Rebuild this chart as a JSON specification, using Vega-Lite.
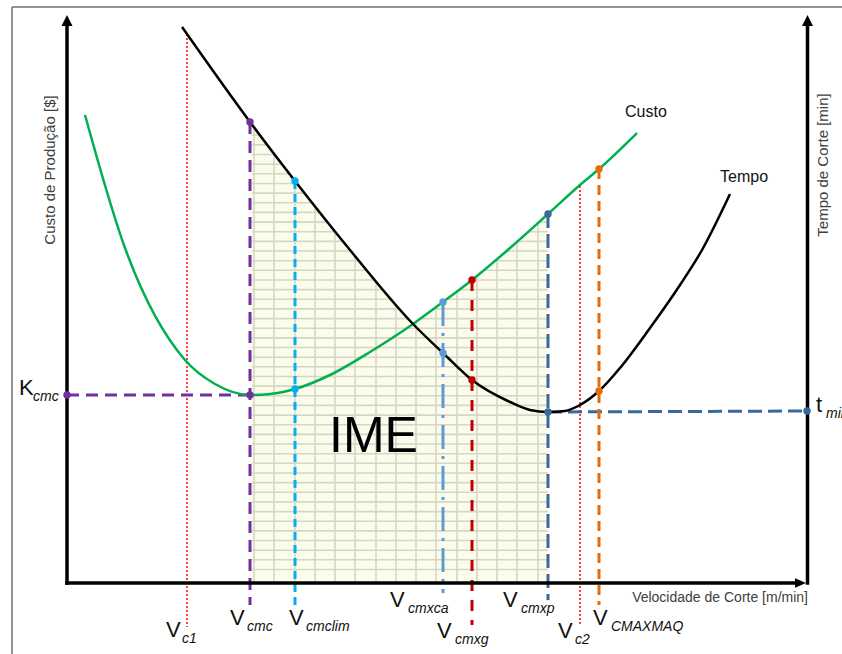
{
  "$schema": "https://vega.github.io/schema/vega-lite/v6.json",
  "width": 842,
  "height": 654,
  "autosize": {"type": "fit", "contains": "padding"},
  "padding": 0,
  "background": "white",
  "config": {"view": {"stroke": null}, "font": "Liberation Sans"},
  "datasets": {
    "frame": [
      {"x": -55, "y": 576, "x2": 775, "y2": 576},
      {"x": -55, "y": -71, "x2": -55, "y2": 576}
    ],
    "boundary": [
      {"x": 183, "y": 461, "base": 0, "top": 476}, {"x": 228, "y": 402, "base": 0, "top": 476},
      {"x": 283, "y": 333, "base": 0, "top": 476}, {"x": 346, "y": 259, "base": 0, "top": 476},
      {"x": 376, "y": 281, "base": 0, "top": 476}, {"x": 405, "y": 303, "base": 0, "top": 476},
      {"x": 443, "y": 335, "base": 0, "top": 476}, {"x": 481, "y": 369, "base": 0, "top": 476}
    ],
    "hgrid": [
      {"y": 13.5, "x": 185, "x2": 481}, {"y": 23.2, "x": 185, "x2": 481}, {"y": 32.8, "x": 185, "x2": 481},
      {"y": 42.5, "x": 185, "x2": 481}, {"y": 52.1, "x": 185, "x2": 481}, {"y": 61.8, "x": 185, "x2": 481},
      {"y": 71.4, "x": 185, "x2": 481}, {"y": 81.1, "x": 185, "x2": 481}, {"y": 90.7, "x": 185, "x2": 481},
      {"y": 100.4, "x": 185, "x2": 481}, {"y": 110.0, "x": 185, "x2": 481}, {"y": 119.7, "x": 185, "x2": 481},
      {"y": 129.3, "x": 185, "x2": 481}, {"y": 139.0, "x": 185, "x2": 481}, {"y": 148.6, "x": 185, "x2": 481},
      {"y": 158.3, "x": 185, "x2": 481}, {"y": 167.9, "x": 185, "x2": 481}, {"y": 177.6, "x": 185, "x2": 481},
      {"y": 187.2, "x": 185, "x2": 481}, {"y": 196.9, "x": 185, "x2": 481}, {"y": 206.5, "x": 185, "x2": 481},
      {"y": 216.2, "x": 185, "x2": 481}, {"y": 225.8, "x": 185, "x2": 481}, {"y": 235.5, "x": 185, "x2": 481},
      {"y": 245.1, "x": 185, "x2": 481}, {"y": 254.8, "x": 185, "x2": 481}, {"y": 264.4, "x": 185, "x2": 481},
      {"y": 274.1, "x": 185, "x2": 481}, {"y": 283.7, "x": 185, "x2": 481}, {"y": 293.4, "x": 185, "x2": 481},
      {"y": 303.0, "x": 185, "x2": 481}, {"y": 312.7, "x": 185, "x2": 481}, {"y": 322.3, "x": 185, "x2": 481},
      {"y": 332.0, "x": 185, "x2": 481}, {"y": 341.6, "x": 185, "x2": 481}, {"y": 351.3, "x": 185, "x2": 481},
      {"y": 360.9, "x": 185, "x2": 481}, {"y": 370.6, "x": 185, "x2": 481}, {"y": 380.2, "x": 185, "x2": 481},
      {"y": 389.9, "x": 185, "x2": 481}, {"y": 399.5, "x": 185, "x2": 481}, {"y": 409.2, "x": 185, "x2": 481},
      {"y": 418.8, "x": 185, "x2": 481}, {"y": 428.5, "x": 185, "x2": 481}, {"y": 438.1, "x": 185, "x2": 481},
      {"y": 447.8, "x": 185, "x2": 481}, {"y": 457.4, "x": 185, "x2": 481}
    ],
    "vgrid": [
      {"x": 187, "y": 0, "y2": 470}, {"x": 207, "y": 0, "y2": 470}, {"x": 228, "y": 0, "y2": 470},
      {"x": 248, "y": 0, "y2": 470}, {"x": 268, "y": 0, "y2": 470}, {"x": 288, "y": 0, "y2": 470},
      {"x": 309, "y": 0, "y2": 470}, {"x": 329, "y": 0, "y2": 470}, {"x": 349, "y": 0, "y2": 470},
      {"x": 369, "y": 0, "y2": 470}, {"x": 390, "y": 0, "y2": 470}, {"x": 410, "y": 0, "y2": 470},
      {"x": 430, "y": 0, "y2": 470}, {"x": 450, "y": 0, "y2": 470}, {"x": 471, "y": 0, "y2": 470}
    ],
    "axes": [
      {"x": 0, "y": -2, "x2": 0, "y2": 558},
      {"x": 740.5, "y": -1.7, "x2": 740.5, "y2": 558},
      {"x": -1.7, "y": 0, "x2": 729, "y2": 0}
    ],
    "arrowsUp": [{"x": 0, "y": 568}, {"x": 740.5, "y": 568}],
    "arrowRight": [{"x": 739, "y": 0}],
    "dotted": [
      {"name": "c1", "x": 120, "y": 549, "x2": 120, "y2": -44},
      {"name": "c2", "x": 513, "y": 397, "x2": 513, "y2": -42}
    ],
    "dashed": [
      {"name": "cmc", "x": 183, "y": 461, "x2": 183, "y2": -22},
      {"name": "cmc", "x": 0, "y": 188, "x2": 183, "y2": 188},
      {"name": "cmclim", "x": 228, "y": 402, "x2": 228, "y2": -24},
      {"name": "cmxca", "x": 376, "y": 281, "x2": 376, "y2": -10},
      {"name": "cmxg", "x": 405, "y": 303, "x2": 405, "y2": -42},
      {"name": "cmxp", "x": 481, "y": 369, "x2": 481, "y2": -17},
      {"name": "cmxp", "x": 481, "y": 171, "x2": 740, "y2": 172},
      {"name": "cmaxmaq", "x": 532, "y": 414, "x2": 532, "y2": -22}
    ],
    "custo": [
      {"x": 18, "y": 468}, {"x": 58, "y": 335}, {"x": 118, "y": 223}, {"x": 148, "y": 199}, {"x": 183, "y": 188},
      {"x": 203, "y": 189}, {"x": 228, "y": 194}, {"x": 263, "y": 208}, {"x": 303, "y": 231}, {"x": 346, "y": 259},
      {"x": 376, "y": 281}, {"x": 405, "y": 303}, {"x": 443, "y": 335}, {"x": 481, "y": 369}, {"x": 513, "y": 398},
      {"x": 532, "y": 414}, {"x": 570, "y": 450}
    ],
    "tempo": [
      {"x": 115, "y": 556}, {"x": 183, "y": 461}, {"x": 228, "y": 402}, {"x": 283, "y": 333}, {"x": 346, "y": 259},
      {"x": 376, "y": 230}, {"x": 405, "y": 203}, {"x": 443, "y": 181}, {"x": 463, "y": 173}, {"x": 481, "y": 171},
      {"x": 498, "y": 172}, {"x": 513, "y": 178}, {"x": 532, "y": 192}, {"x": 553, "y": 215}, {"x": 583, "y": 255},
      {"x": 613, "y": 298}, {"x": 635, "y": 333}, {"x": 663, "y": 389}
    ],
    "dots": [
      {"name": "cmc", "x": 0, "y": 188}, {"name": "cmc", "x": 183, "y": 188}, {"name": "cmc", "x": 183, "y": 461},
      {"name": "cmclim", "x": 228, "y": 402}, {"name": "cmclim", "x": 228, "y": 194},
      {"name": "cmxca", "x": 376, "y": 281}, {"name": "cmxca", "x": 376, "y": 230},
      {"name": "cmxg", "x": 405, "y": 303}, {"name": "cmxg", "x": 405, "y": 203},
      {"name": "cmxp", "x": 481, "y": 369}, {"name": "cmxp", "x": 481, "y": 171}, {"name": "cmxp", "x": 740, "y": 172},
      {"name": "cmaxmaq", "x": 532, "y": 414}, {"name": "cmaxmaq", "x": 532, "y": 192}
    ],
    "big": [
      {"t": "K", "x": -48, "y": 188}, {"t": "V", "x": 99, "y": -54}, {"t": "V", "x": 163, "y": -42},
      {"t": "V", "x": 222, "y": -42}, {"t": "V", "x": 323, "y": -24}, {"t": "V", "x": 370, "y": -55},
      {"t": "V", "x": 436, "y": -24}, {"t": "V", "x": 491, "y": -55}, {"t": "V", "x": 526, "y": -42},
      {"t": "t", "x": 749, "y": 171}
    ],
    "sub": [
      {"t": "cmc", "x": -34, "y": 182}, {"t": "c1", "x": 115, "y": -60}, {"t": "cmc", "x": 180, "y": -48},
      {"t": "cmclim", "x": 239, "y": -48}, {"t": "cmxca", "x": 341, "y": -30}, {"t": "cmxg", "x": 388, "y": -61},
      {"t": "cmxp", "x": 454, "y": -30}, {"t": "c2", "x": 508, "y": -61}, {"t": "CMAXMAQ", "x": 544, "y": -48},
      {"t": "min", "x": 759, "y": 165}
    ],
    "curveLabels": [{"t": "Custo", "x": 558, "y": 466}, {"t": "Tempo", "x": 653, "y": 401}],
    "ime": [{"t": "IME", "x": 262, "y": 131}],
    "ytitles": [
      {"t": "Custo de Produção [$]", "x": -17, "y": 413},
      {"t": "Tempo de Corte [min]", "x": 756, "y": 418}
    ],
    "xtitle": [{"t": "Velocidade de Corte [m/min]", "x": 741, "y": -19}]
  },
  "encoding": {
    "x": {"field": "x", "type": "quantitative", "scale": {"domain": [-67, 775], "nice": false, "zero": false}, "axis": null},
    "y": {"field": "y", "type": "quantitative", "scale": {"domain": [-71, 583], "nice": false, "zero": false}, "axis": null}
  },
  "layer": [
    {"data": {"name": "frame"}, "mark": {"type": "rule", "color": "#707070", "strokeWidth": 1.5, "clip": true},
     "encoding": {"x2": {"field": "x2"}, "y2": {"field": "y2"}}},
    {"data": {"name": "boundary"}, "mark": {"type": "area", "color": "#fcfcec", "interpolate": "linear", "opacity": 1},
     "encoding": {"y2": {"field": "base"}}},
    {"data": {"name": "hgrid"}, "mark": {"type": "rule", "color": "#d6d6c6", "strokeWidth": 1.6, "opacity": 1},
     "encoding": {"x2": {"field": "x2"}}},
    {"data": {"name": "vgrid"}, "mark": {"type": "rule", "color": "#d6d6c6", "strokeWidth": 1.6, "opacity": 1},
     "encoding": {"y2": {"field": "y2"}}},
    {"data": {"name": "boundary"}, "mark": {"type": "area", "color": "#ffffff", "interpolate": "linear", "opacity": 1},
     "encoding": {"y2": {"field": "top"}}},
    {"data": {"name": "dotted"}, "mark": {"type": "rule", "color": "#ff0000", "strokeWidth": 1.5, "strokeDash": [2, 2]},
     "encoding": {"x2": {"field": "x2"}, "y2": {"field": "y2"}}},
    {"data": {"name": "dashed"}, "mark": {"type": "rule", "strokeWidth": 3},
     "encoding": {
       "x2": {"field": "x2"}, "y2": {"field": "y2"},
       "color": {"field": "name", "type": "nominal", "legend": null,
                 "scale": {"domain": ["cmc", "cmclim", "cmxca", "cmxg", "cmxp", "cmaxmaq"],
                           "range": ["#7030a0", "#00b0f0", "#5b9bd5", "#c00000", "#3a679c", "#e46c0a"]}},
       "strokeDash": {"field": "name", "type": "nominal", "legend": null,
                      "scale": {"domain": ["cmc", "cmclim", "cmxca", "cmxg", "cmxp", "cmaxmaq"],
                                "range": [[12, 7], [8, 5], [24, 7, 3, 7], [11, 9], [14, 6], [10, 6]]}}
     }},
    {"data": {"name": "custo"}, "mark": {"type": "line", "color": "#00b050", "strokeWidth": 2.5, "interpolate": "monotone"}, "encoding": {}},
    {"data": {"name": "tempo"}, "mark": {"type": "line", "color": "#000000", "strokeWidth": 2.5, "interpolate": "monotone"}, "encoding": {}},
    {"data": {"name": "axes"}, "mark": {"type": "rule", "color": "#000000", "strokeWidth": 3.5},
     "encoding": {"x2": {"field": "x2"}, "y2": {"field": "y2"}}},
    {"data": {"name": "arrowsUp"}, "mark": {"type": "point", "shape": "M0,0L1,2L-1,2Z", "filled": true, "color": "#000000", "size": 121, "opacity": 1}, "encoding": {}},
    {"data": {"name": "arrowRight"}, "mark": {"type": "point", "shape": "M0,0L-2,-0.85L-2,0.85Z", "filled": true, "color": "#000000", "size": 121, "opacity": 1}, "encoding": {}},
    {"data": {"name": "dots"}, "mark": {"type": "circle", "size": 55, "opacity": 1},
     "encoding": {"color": {"field": "name", "type": "nominal", "legend": null,
                            "scale": {"domain": ["cmc", "cmclim", "cmxca", "cmxg", "cmxp", "cmaxmaq"],
                                      "range": ["#7030a0", "#00b0f0", "#5b9bd5", "#c00000", "#3a679c", "#e46c0a"]}}}},
    {"data": {"name": "big"}, "mark": {"type": "text", "fontSize": 22, "align": "left", "baseline": "alphabetic", "color": "#111111", "clip": true},
     "encoding": {"text": {"field": "t"}}},
    {"data": {"name": "sub"}, "mark": {"type": "text", "fontSize": 14, "fontStyle": "italic", "align": "left", "baseline": "alphabetic", "color": "#111111", "clip": true},
     "encoding": {"text": {"field": "t"}}},
    {"data": {"name": "curveLabels"}, "mark": {"type": "text", "fontSize": 16, "align": "left", "baseline": "alphabetic", "color": "#111111"},
     "encoding": {"text": {"field": "t"}}},
    {"data": {"name": "ime"}, "mark": {"type": "text", "fontSize": 50, "align": "left", "baseline": "alphabetic", "color": "#000000"},
     "encoding": {"text": {"field": "t"}}},
    {"data": {"name": "ytitles"}, "mark": {"type": "text", "fontSize": 15, "angle": 270, "align": "center", "baseline": "middle", "color": "#404040"},
     "encoding": {"text": {"field": "t"}}},
    {"data": {"name": "xtitle"}, "mark": {"type": "text", "fontSize": 14, "align": "right", "baseline": "alphabetic", "color": "#404040"},
     "encoding": {"text": {"field": "t"}}}
  ]
}
